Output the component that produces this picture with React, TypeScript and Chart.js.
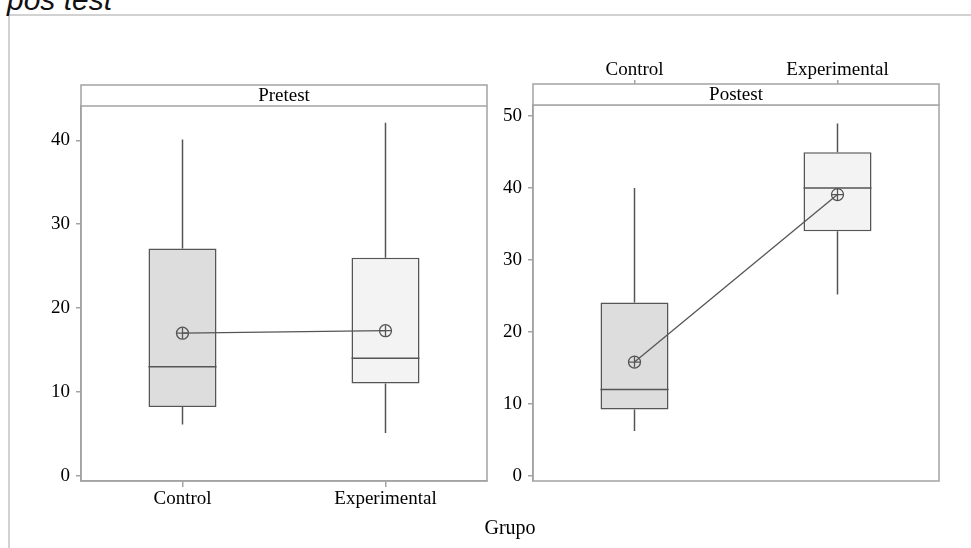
import React, { useEffect, useRef } from "react";
import { Chart, registerables } from "chart.js";

Chart.register(...registerables);

// ---- data ----
const categories = ["Control", "Experimental"];

const pretestTitle = "Pretest";
const pretestMin = [6.1, 5.1];
const pretestQ1 = [8.2, 11];
const pretestMedian = [13, 14];
const pretestQ3 = [27.1, 26];
const pretestMax = [40.1, 42.1];
const pretestMean = [17, 17.3];
const pretestTicks = [0, 10, 20, 30, 40];

const postestTitle = "Postest";
const postestMin = [6.2, 25.2];
const postestQ1 = [9.2, 34];
const postestMedian = [12, 40];
const postestQ3 = [24.1, 45];
const postestMax = [40, 49];
const postestMean = [15.8, 39.1];
const postestTicks = [0, 10, 20, 30, 40, 50];

const boxFills = ["#dddddd", "#f3f3f3"];

// ---- styles ----
const SERIF = '"Liberation Serif", "Times New Roman", serif';
const FONT_SIZE = 19;
const FRAME = "#a3a3a3";
const INK = "#555555";
const HEADER_H = 21;

type Panel = {
  title: string;
  min: number[];
  q1: number[];
  median: number[];
  q3: number[];
  max: number[];
  mean: number[];
  ticks: number[];
  yMin: number;
  yMax: number;
  xPosition: "top" | "bottom";
  yWidth: number;
  xHeight: number;
  padding: { left: number; top: number; right: number; bottom: number };
};

function makePlugins(p: Panel) {
  return [
    {
      id: "boxWhiskers",
      afterDatasetDraw(chart: any, args: any) {
        if (args.index !== 0) return;
        const ctx = chart.ctx;
        const xs = chart.scales.x;
        const ys = chart.scales.y;
        const meta = chart.getDatasetMeta(0);
        ctx.save();
        ctx.strokeStyle = INK;
        ctx.lineWidth = 1.5;
        categories.forEach((_, i) => {
          const x = xs.getPixelForValue(i);
          const bar = meta.data[i];
          const half = bar ? bar.width / 2 : 34;
          ctx.beginPath();
          ctx.moveTo(x, ys.getPixelForValue(p.q3[i]));
          ctx.lineTo(x, ys.getPixelForValue(p.max[i]));
          ctx.moveTo(x, ys.getPixelForValue(p.q1[i]));
          ctx.lineTo(x, ys.getPixelForValue(p.min[i]));
          const ym = ys.getPixelForValue(p.median[i]);
          ctx.moveTo(x - half, ym);
          ctx.lineTo(x + half, ym);
          ctx.stroke();
        });
        ctx.restore();
      },
    },
    {
      id: "panelFrame",
      afterDraw(chart: any) {
        const ctx = chart.ctx;
        const { left, right, top, bottom } = chart.chartArea;
        ctx.save();
        ctx.fillStyle = "#ffffff";
        ctx.fillRect(left, top - HEADER_H, right - left, HEADER_H);
        ctx.strokeStyle = FRAME;
        ctx.lineWidth = 1.5;
        ctx.strokeRect(left, top - HEADER_H, right - left, bottom - top + HEADER_H);
        ctx.beginPath();
        ctx.moveTo(left, top);
        ctx.lineTo(right, top);
        ctx.stroke();
        ctx.fillStyle = "#000000";
        ctx.font = `${FONT_SIZE}px ${SERIF}`;
        ctx.textAlign = "center";
        ctx.textBaseline = "middle";
        ctx.fillText(p.title, (left + right) / 2, top - HEADER_H / 2 + 1);
        ctx.restore();
      },
    },
  ];
}

function makeConfig(p: Panel): any {
  const isTop = p.xPosition === "top";
  return {
    type: "bar",
    data: {
      labels: categories,
      datasets: [
        {
          type: "bar",
          data: categories.map((_, i) => [p.q1[i], p.q3[i]]),
          backgroundColor: boxFills,
          borderColor: INK,
          borderWidth: 1.5,
          borderSkipped: false,
          barPercentage: 0.335,
          categoryPercentage: 1,
          order: 2,
        },
        {
          type: "line",
          data: p.mean,
          borderColor: INK,
          borderWidth: 1.3,
          pointStyle: "circle",
          pointRadius: 6,
          pointBackgroundColor: "rgba(0,0,0,0)",
          pointBorderColor: INK,
          pointBorderWidth: 1.3,
          order: 1,
        },
        {
          type: "line",
          data: p.mean,
          showLine: false,
          pointStyle: "cross",
          pointRadius: 5.5,
          pointBorderColor: INK,
          pointBorderWidth: 1.3,
          order: 0,
        },
      ],
    },
    options: {
      animation: false,
      responsive: false,
      events: [],
      layout: { padding: p.padding },
      plugins: {
        legend: { display: false },
        tooltip: { enabled: false },
        title: { display: false },
      },
      scales: {
        x: {
          type: "category",
          position: p.xPosition,
          offset: true,
          grid: {
            offset: false,
            drawOnChartArea: false,
            drawTicks: true,
            tickLength: isTop ? 25 : 6,
            color: FRAME,
            lineWidth: 1.5,
          },
          border: { display: true, color: FRAME, width: 1.5 },
          ticks: {
            color: "#000000",
            font: { family: SERIF, size: FONT_SIZE, lineHeight: 1 },
            padding: isTop ? 0 : 3,
            maxRotation: 0,
            autoSkip: false,
          },
          afterFit: (s: any) => {
            s.height = p.xHeight;
          },
        },
        y: {
          type: "linear",
          min: p.yMin,
          max: p.yMax,
          afterBuildTicks: (s: any) => {
            s.ticks = p.ticks.map((v) => ({ value: v }));
          },
          grid: {
            drawOnChartArea: false,
            drawTicks: true,
            tickLength: 5,
            color: FRAME,
            lineWidth: 1.5,
          },
          border: { display: true, color: FRAME, width: 1.5 },
          ticks: {
            color: "#000000",
            font: { family: SERIF, size: FONT_SIZE, lineHeight: 1 },
            padding: 6,
          },
          afterFit: (s: any) => {
            s.width = p.yWidth;
          },
        },
      },
    },
    plugins: makePlugins(p),
  };
}

const pretestPanel: Panel = {
  title: pretestTitle,
  min: pretestMin,
  q1: pretestQ1,
  median: pretestMedian,
  q3: pretestQ3,
  max: pretestMax,
  mean: pretestMean,
  ticks: pretestTicks,
  yMin: -0.63,
  yMax: 44.1,
  xPosition: "bottom",
  yWidth: 81,
  xHeight: 36,
  padding: { left: 0, top: 106, right: 13, bottom: 31 },
};

const postestPanel: Panel = {
  title: postestTitle,
  min: postestMin,
  q1: postestQ1,
  median: postestMedian,
  q3: postestQ3,
  max: postestMax,
  mean: postestMean,
  ticks: postestTicks,
  yMin: -0.74,
  yMax: 51.56,
  xPosition: "top",
  yWidth: 43,
  xHeight: 55,
  padding: { left: 0, top: 50, right: 32, bottom: 67 },
};

function PanelChart({ panel, left, width }: { panel: Panel; left: number; width: number }) {
  const ref = useRef<HTMLCanvasElement | null>(null);
  useEffect(() => {
    if (!ref.current) return;
    const chart = new Chart(ref.current, makeConfig(panel));
    return () => chart.destroy();
  }, [panel]);
  return (
    <canvas
      ref={ref}
      width={width}
      height={548}
      style={{ position: "absolute", left, top: 0, width, height: 548, display: "block" }}
    />
  );
}

export default function App() {
  return (
    <div
      style={{
        position: "absolute",
        left: 0,
        top: 0,
        width: 971,
        height: 548,
        overflow: "hidden",
        background: "#ffffff",
      }}
    >
      <div
        style={{
          position: "absolute",
          left: 8,
          top: 14,
          width: 1000,
          height: 600,
          borderLeft: "2px solid #d2d2d2",
          borderTop: "2px solid #d2d2d2",
          boxSizing: "border-box",
        }}
      />
      <div
        style={{
          position: "absolute",
          left: 7,
          top: -15,
          font: 'italic 30px "Liberation Sans", Arial, sans-serif',
          lineHeight: "30px",
          color: "#111111",
          whiteSpace: "nowrap",
        }}
      >
        pos test
      </div>
      <PanelChart panel={pretestPanel} left={0} width={500} />
      <PanelChart panel={postestPanel} left={490} width={481} />
      <div
        style={{
          position: "absolute",
          left: 510,
          top: 516,
          transform: "translateX(-50%)",
          font: `20px ${SERIF}`,
          lineHeight: "23px",
          color: "#000000",
          whiteSpace: "nowrap",
        }}
      >
        Grupo
      </div>
    </div>
  );
}
